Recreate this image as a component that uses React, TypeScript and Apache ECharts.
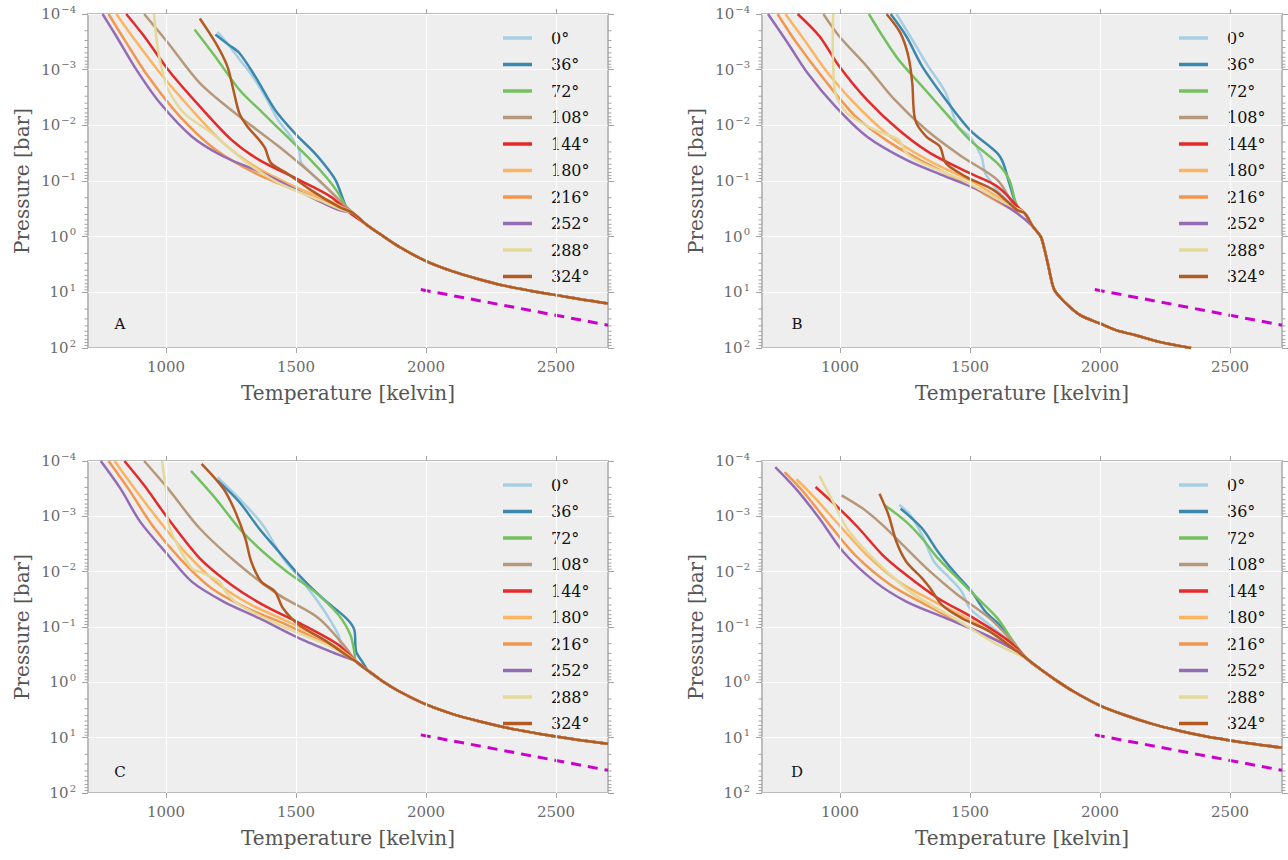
import React, { useEffect, useRef } from 'react';
import * as echarts from 'echarts';

// ---------- DATA (temperature in K, pressure as log10(bar)) ----------
const angleNames = ['0°', '36°', '72°', '108°', '144°', '180°', '216°', '252°', '288°', '324°'];
const lineColors = ['#a6cfe3', '#3c87ae', '#73c15f', '#b6987a', '#e42a2a', '#fcb461', '#f3974e', '#946cb6', '#e5d899', '#b25a22'];
const xTickValues = [1000, 1500, 2000, 2500];
const minorMultipliers = [2, 3, 4, 5, 6, 7, 8, 9];
const minorDecades = [-4, -3, -2, -1, 0, 1];
const panelLetters = ['A', 'B', 'C', 'D'];
const dashedLine = [[1980, 0.95], [2700, 1.59]];

const panelA = [
  [[1198, -3.68], [1240, -3.45], [1280, -3.2], [1330, -2.9], [1390, -2.45], [1430, -2.1], [1480, -1.8], [1512, -1.55], [1518, -1.35], [1545, -1.2], [1600, -0.95], [1648, -0.75], [1690, -0.54]],
  [[1190, -3.63], [1240, -3.45], [1282, -3.3], [1343, -2.88], [1419, -2.28], [1495, -1.86], [1572, -1.5], [1625, -1.2], [1655, -0.99], [1675, -0.75], [1693, -0.54]],
  [[1110, -3.72], [1198, -3.18], [1282, -2.64], [1373, -2.22], [1465, -1.8], [1556, -1.38], [1620, -1.05], [1660, -0.8], [1693, -0.54]],
  [[916, -4], [1008, -3.48], [1130, -2.76], [1282, -2.16], [1434, -1.62], [1587, -1.02], [1678, -0.6]],
  [[847, -4], [916, -3.6], [1008, -3.0], [1130, -2.34], [1252, -1.74], [1358, -1.38], [1511, -1.02], [1633, -0.72], [1709, -0.42]],
  [[809, -4], [870, -3.6], [977, -2.94], [1099, -2.28], [1221, -1.68], [1343, -1.26], [1495, -0.9], [1648, -0.6]],
  [[779, -4], [840, -3.54], [931, -2.88], [1053, -2.16], [1191, -1.56], [1343, -1.14], [1495, -0.84], [1663, -0.54]],
  [[756, -4], [809, -3.6], [886, -3.0], [977, -2.4], [1099, -1.8], [1221, -1.44], [1373, -1.14], [1526, -0.78], [1663, -0.48]],
  [[954, -4], [962, -3.6], [975, -3.2], [990, -2.9], [1008, -2.64], [1069, -2.22], [1175, -1.86], [1252, -1.56], [1313, -1.32], [1434, -0.96], [1587, -0.66], [1678, -0.48]],
  [[1130, -3.92], [1191, -3.48], [1236, -3.06], [1259, -2.64], [1282, -2.22], [1313, -1.98], [1358, -1.74], [1381, -1.59], [1404, -1.32], [1465, -1.14], [1556, -0.84], [1663, -0.54]],
];
const deepA = [[1720, -0.42], [1770, -0.22], [1838, 0], [1900, 0.19], [2000, 0.44], [2100, 0.62], [2200, 0.76], [2300, 0.88], [2400, 0.97], [2500, 1.05], [2600, 1.13], [2700, 1.2]];

const panelB = [
  [[1217, -4], [1270, -3.6], [1331, -3.12], [1407, -2.58], [1453, -1.98], [1499, -1.8], [1544, -1.44], [1559, -1.14], [1605, -0.84], [1666, -0.54]],
  [[1195, -4], [1255, -3.6], [1316, -3.06], [1407, -2.46], [1499, -1.92], [1605, -1.5], [1628, -1.32], [1651, -0.96], [1681, -0.54]],
  [[1111, -4], [1164, -3.6], [1225, -3.18], [1316, -2.7], [1407, -2.22], [1499, -1.74], [1605, -1.32], [1651, -1.02], [1681, -0.54]],
  [[936, -4], [997, -3.6], [1103, -3.06], [1210, -2.46], [1331, -1.92], [1468, -1.44], [1605, -1.02], [1673, -0.54]],
  [[837, -4], [921, -3.6], [997, -3.06], [1103, -2.46], [1225, -1.92], [1347, -1.5], [1499, -1.14], [1605, -0.9], [1696, -0.48]],
  [[790, -4], [860, -3.55], [960, -2.9], [1080, -2.28], [1210, -1.74], [1360, -1.32], [1520, -0.96], [1666, -0.54]],
  [[760, -4], [830, -3.5], [935, -2.85], [1060, -2.16], [1195, -1.68], [1331, -1.32], [1483, -0.96], [1666, -0.48]],
  [[723, -4], [799, -3.48], [875, -2.94], [982, -2.34], [1103, -1.8], [1255, -1.38], [1407, -1.08], [1560, -0.78], [1681, -0.42]],
  [[974, -4], [972, -3.5], [974, -3.06], [982, -2.58], [1027, -2.22], [1134, -1.92], [1225, -1.74], [1255, -1.5], [1316, -1.32], [1468, -1.02], [1635, -0.6]],
  [[1179, -4], [1232, -3.66], [1263, -3.24], [1278, -2.76], [1289, -2.1], [1331, -1.8], [1384, -1.62], [1407, -1.32], [1483, -1.08], [1590, -0.84], [1681, -0.48]],
];
const deepB = [[1711, -0.42], [1742, -0.18], [1772, 0], [1787, 0.24], [1800, 0.5], [1810, 0.72], [1825, 0.96], [1863, 1.17], [1924, 1.41], [2000, 1.56], [2061, 1.68], [2137, 1.77], [2228, 1.89], [2350, 2.0]];

const panelC = [
  [[1198, -3.71], [1282, -3.32], [1373, -2.84], [1450, -2.24], [1526, -1.82], [1602, -1.34], [1663, -0.86], [1678, -0.62]],
  [[1198, -3.65], [1282, -3.26], [1358, -2.78], [1434, -2.36], [1511, -1.94], [1602, -1.52], [1693, -1.16], [1724, -0.95], [1731, -0.56], [1754, -0.38]],
  [[1096, -3.82], [1191, -3.32], [1282, -2.78], [1373, -2.36], [1465, -2.0], [1572, -1.64], [1663, -1.22], [1709, -0.86], [1724, -0.56]],
  [[916, -4], [1008, -3.5], [1130, -2.78], [1282, -2.12], [1434, -1.58], [1587, -1.16], [1693, -0.62]],
  [[840, -4], [916, -3.56], [1008, -2.96], [1130, -2.24], [1252, -1.76], [1373, -1.4], [1526, -1.04], [1663, -0.68]],
  [[802, -4], [870, -3.56], [977, -2.9], [1084, -2.3], [1206, -1.76], [1328, -1.4], [1495, -1.04], [1663, -0.62]],
  [[779, -4], [855, -3.5], [947, -2.84], [1053, -2.24], [1175, -1.7], [1312, -1.34], [1465, -1.04], [1648, -0.62]],
  [[749, -4], [825, -3.5], [901, -2.9], [1008, -2.3], [1099, -1.82], [1221, -1.46], [1358, -1.16], [1511, -0.8], [1663, -0.5]],
  [[985, -4], [992, -3.75], [1000, -3.5], [1008, -2.9], [1038, -2.54], [1099, -2.06], [1145, -1.97], [1206, -1.82], [1229, -1.64], [1282, -1.4], [1434, -1.04], [1617, -0.68]],
  [[1137, -3.95], [1221, -3.5], [1267, -3.08], [1305, -2.6], [1328, -2.18], [1366, -1.82], [1419, -1.64], [1450, -1.34], [1511, -1.04], [1617, -0.74], [1709, -0.44]],
];
const deepC = [[1730, -0.38], [1780, -0.2], [1830, -0.03], [1900, 0.17], [2000, 0.4], [2100, 0.57], [2200, 0.7], [2300, 0.81], [2400, 0.9], [2500, 0.98], [2600, 1.05], [2700, 1.11]];

const panelD = [
  [[1228, -3.21], [1271, -3.02], [1316, -2.66], [1362, -2.18], [1423, -1.88], [1468, -1.64], [1499, -1.34], [1559, -1.1], [1651, -0.74]],
  [[1233, -3.14], [1316, -2.78], [1377, -2.36], [1438, -2.0], [1506, -1.64], [1559, -1.28], [1625, -0.98], [1666, -0.68]],
  [[1172, -3.2], [1255, -2.9], [1316, -2.6], [1377, -2.24], [1453, -1.88], [1529, -1.52], [1605, -1.16], [1666, -0.74]],
  [[1006, -3.38], [1088, -3.14], [1164, -2.84], [1255, -2.42], [1347, -2.0], [1453, -1.58], [1575, -1.16], [1651, -0.8]],
  [[906, -3.53], [997, -3.14], [1073, -2.78], [1164, -2.3], [1255, -1.94], [1377, -1.52], [1514, -1.16], [1651, -0.74]],
  [[833, -3.67], [906, -3.32], [997, -2.84], [1103, -2.3], [1225, -1.82], [1362, -1.46], [1514, -1.1], [1651, -0.68]],
  [[787, -3.8], [860, -3.44], [951, -2.9], [1058, -2.3], [1195, -1.76], [1331, -1.4], [1499, -0.98], [1666, -0.62]],
  [[751, -3.89], [830, -3.5], [921, -2.96], [1012, -2.36], [1134, -1.82], [1255, -1.46], [1407, -1.16], [1559, -0.86], [1681, -0.56]],
  [[921, -3.73], [967, -3.32], [1027, -2.78], [1103, -2.36], [1195, -1.94], [1286, -1.58], [1438, -1.16], [1605, -0.68]],
  [[1152, -3.41], [1187, -3.02], [1217, -2.54], [1255, -2.18], [1316, -1.88], [1347, -1.7], [1392, -1.4], [1468, -1.16], [1575, -0.92], [1681, -0.56]],
];
const deepD = [[1720, -0.42], [1770, -0.24], [1830, -0.04], [1900, 0.17], [2000, 0.42], [2100, 0.6], [2200, 0.75], [2300, 0.87], [2400, 0.97], [2500, 1.05], [2600, 1.12], [2700, 1.18]];

// ---------- LAYOUT / STYLE ----------
const FONT = "'DejaVu Serif', 'Liberation Serif', serif";
const grids = [
  { left: 88, top: 14, width: 520, height: 334 },
  { left: 762, top: 14, width: 520, height: 334 },
  { left: 88, top: 461, width: 520, height: 332 },
  { left: 762, top: 461, width: 520, height: 332 },
];
const legendPos = [
  { left: 503, top: 29 },
  { left: 1179, top: 29 },
  { left: 503, top: 476 },
  { left: 1179, top: 476 },
];
const letterPos = [
  [120, 324], [797, 324], [120, 772], [797, 772],
];

const toPoints = (arr: number[][]) => arr.map((p) => [p[0], Math.pow(10, p[1])]);

function buildOption() {
  const panels = [
    { curves: panelA, deep: deepA },
    { curves: panelB, deep: deepB },
    { curves: panelC, deep: deepC },
    { curves: panelD, deep: deepD },
  ];
  const minorValues: number[][] = [];
  minorDecades.forEach((d) => minorMultipliers.forEach((m) => minorValues.push([700, m * Math.pow(10, d)])));

  const tickColor = '#a3a3a3';
  const labelColor = '#6a6a6a';
  const xAxis: any[] = [];
  const yAxis: any[] = [];
  const series: any[] = [];
  const legend: any[] = [];
  const graphic: any[] = [];

  panels.forEach((panel, i) => {
    xAxis.push({
      type: 'value', gridIndex: i, min: 700, max: 2700, position: 'bottom',
      axisLine: { show: false },
      axisTick: { show: true, inside: false, length: 5, customValues: xTickValues, lineStyle: { color: tickColor, width: 1 } },
      axisLabel: {
        show: true, customValues: xTickValues, margin: 11, color: labelColor, fontSize: 15, fontFamily: FONT,
        formatter: (v: number) => String(v),
      },
      splitLine: { show: false },
      name: 'Temperature [kelvin]', nameLocation: 'middle', nameGap: 35,
      nameTextStyle: { fontSize: 20, color: '#555555', fontFamily: FONT },
    });
    xAxis.push({
      type: 'value', gridIndex: i, min: 700, max: 2700, position: 'top',
      axisLine: { show: false },
      axisTick: { show: true, inside: false, length: 5, customValues: xTickValues, lineStyle: { color: tickColor, width: 1 } },
      axisLabel: { show: false },
      splitLine: { show: false },
    });
    yAxis.push({
      type: 'log', logBase: 10, gridIndex: i, min: 1e-4, max: 100, inverse: true, splitNumber: 6,
      axisLine: { show: false },
      axisTick: { show: true, inside: false, length: 6, lineStyle: { color: tickColor, width: 1 } },
      axisLabel: {
        margin: 12,
        formatter: (v: number) => {
          const e = Math.round(Math.log10(v));
          const s = e < 0 ? '\u2212' + (-e) : String(e);
          return `{b|10}{s|${s}}`;
        },
        rich: {
          b: { fontSize: 15, color: labelColor, fontFamily: FONT },
          s: { fontSize: 10, color: labelColor, fontFamily: FONT, padding: [0, 0, 10, 1] },
        },
      },
      splitLine: { show: true, lineStyle: { color: '#ffffff', width: 1.2 } },
      name: 'Pressure [bar]', nameLocation: 'middle', nameGap: 56, nameRotate: 90,
      nameTextStyle: { fontSize: 20, color: '#555555', fontFamily: FONT },
    });
    yAxis.push({
      type: 'log', logBase: 10, gridIndex: i, min: 1e-4, max: 100, inverse: true, splitNumber: 6, position: 'right',
      axisLine: { show: false },
      axisTick: { show: true, inside: false, length: 6, lineStyle: { color: tickColor, width: 1 } },
      axisLabel: { show: false },
      splitLine: { show: false },
    });

    const xi = 2 * i;
    const yi = 2 * i;

    // vertical white grid lines at the x ticks
    series.push({
      type: 'line', xAxisIndex: xi, yAxisIndex: yi, data: [], z: 1, silent: true,
      markLine: {
        silent: true, symbol: ['none', 'none'], label: { show: false },
        lineStyle: { color: '#ffffff', width: 1.2, type: 'solid' },
        emphasis: { disabled: true },
        data: xTickValues.map((v) => ({ xAxis: v })),
      },
    });

    panel.curves.forEach((curve, k) => {
      const last = curve[curve.length - 1];
      const tail = panel.deep.filter((p) => p[1] > last[1] + 0.05 && p[0] > last[0]);
      series.push({
        type: 'line', name: angleNames[k], xAxisIndex: xi, yAxisIndex: yi,
        data: toPoints(curve.concat(tail)),
        showSymbol: false, symbol: 'none', smooth: 0.3, z: 3,
        lineStyle: { color: lineColors[k], width: 2.5 },
        itemStyle: { color: lineColors[k] },
        emphasis: { disabled: true },
      });
    });

    series.push({
      type: 'line', xAxisIndex: xi, yAxisIndex: yi, data: toPoints(dashedLine),
      showSymbol: false, symbol: 'none', z: 3, silent: true,
      lineStyle: { color: '#cc00cc', width: 3, type: [10, 7] },
    });

    series.push({
      type: 'custom', xAxisIndex: xi, yAxisIndex: yi, data: minorValues, clip: false, silent: true, z: 2,
      renderItem: (params: any, api: any) => {
        const v = api.value(1);
        const l = api.coord([700, v]);
        const r = api.coord([2700, v]);
        const st = { stroke: tickColor, lineWidth: 1 };
        return {
          type: 'group',
          children: [
            { type: 'line', shape: { x1: l[0] - 3.5, y1: l[1], x2: l[0], y2: l[1] }, style: st },
            { type: 'line', shape: { x1: r[0], y1: r[1], x2: r[0] + 3.5, y2: r[1] }, style: st },
          ],
        };
      },
    });

    legend.push({
      orient: 'vertical', left: legendPos[i].left, top: legendPos[i].top, padding: 0,
      itemWidth: 29, itemHeight: 3.5, itemGap: 8.5, selectedMode: false,
      icon: 'rect',
      data: angleNames,
      textStyle: { fontSize: 16, color: '#111111', fontFamily: FONT, padding: [0, 0, 0, 14], lineHeight: 18 },
    });

    graphic.push({
      type: 'text', x: letterPos[i][0], y: letterPos[i][1], silent: true,
      style: { text: panelLetters[i], font: `15px ${FONT}`, fill: '#111111', textAlign: 'center', textVerticalAlign: 'middle' },
    });
  });

  return {
    animation: false,
    backgroundColor: '#ffffff',
    grid: grids.map((g) => ({
      ...g, show: true, backgroundColor: '#eeeeee', borderColor: '#bcbcbc', borderWidth: 2,
      containLabel: false, outerBoundsMode: 'none',
    })),
    xAxis, yAxis, series, legend, graphic,
  };
}

export default function App() {
  const ref = useRef<HTMLDivElement>(null);
  useEffect(() => {
    if (!ref.current) return;
    const chart = echarts.init(ref.current, null, { renderer: 'svg' });
    chart.setOption(buildOption() as any);
    return () => chart.dispose();
  }, []);
  return (
    <div
      ref={ref}
      style={{ position: 'fixed', left: 0, top: 0, width: 1288, height: 860, background: '#ffffff' }}
    />
  );
}
